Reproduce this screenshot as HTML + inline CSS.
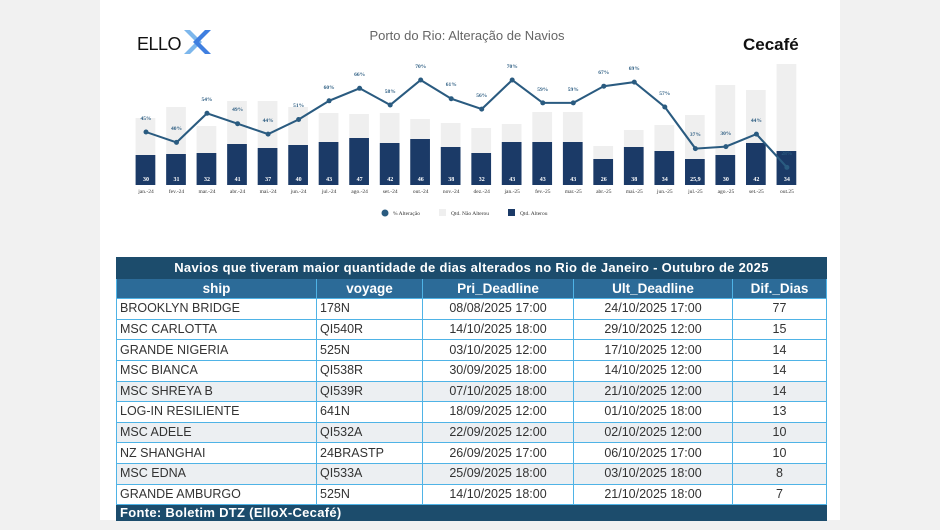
<!DOCTYPE html>
<html><head><meta charset="utf-8"><style>
body{margin:0;width:940px;height:530px;background:#f1f1f1;font-family:"Liberation Sans",sans-serif;overflow:hidden}
.page{position:absolute;left:100px;top:0;width:740px;height:520px;background:#fff}
svg{position:absolute;left:0;top:0}
table{position:absolute;left:116px;top:257px;width:711px;border-collapse:collapse;font-family:"Liberation Sans",sans-serif;font-size:12.5px;color:#333}
td,th{border:1px solid #4fb3e6;height:19.6px;padding:0 3px;line-height:19px}
.t td{background:#1c4c6c;color:#fff;font-weight:bold;text-align:center;font-size:13px;letter-spacing:0.3px;border-color:#1c4c6c}
th{background:#2c6b98;color:#fff;font-size:13.5px;border-color:#4fb3e6}
td.c{text-align:center}
tr.g td{background:#eceff2}
.f td{background:#1c4c6c;color:#fff;font-weight:bold;font-size:13px;height:15px;line-height:15px;border-color:#1c4c6c;letter-spacing:0.3px}
</style></head><body>
<div class="page"></div>
<svg width="940" height="250" font-family="Liberation Serif,serif">
<text x="467" y="40" text-anchor="middle" font-family="Liberation Sans,sans-serif" font-size="13" fill="#666">Porto do Rio: Alteração de Navios</text>
<text x="137" y="50" font-family="Liberation Sans,sans-serif" font-size="18" fill="#111" letter-spacing="-0.5">ELLO</text>
<path d="M184 30 L196 42 L184 54 L190 54 L202 42 L190 30Z" fill="#7db7ec"/>
<path d="M211 30 L199 42 L211 54 L205 54 L193 42 L205 30Z" fill="#3f7fe0"/>
<text x="743" y="50" font-family="Liberation Sans,sans-serif" font-size="17" font-weight="bold" fill="#111">Cecafé</text>
<g transform="translate(146,0) scale(1.0951,1) translate(-146,0)">
<g fill="#efefef">
<rect x="136.5" y="118" width="18" height="67"/><rect x="164.4" y="107" width="18" height="78"/><rect x="192.2" y="126" width="18" height="59"/><rect x="220.1" y="101" width="18" height="84"/><rect x="248" y="101" width="18" height="84"/><rect x="275.9" y="107" width="18" height="78"/><rect x="303.7" y="113" width="18" height="72"/><rect x="331.6" y="114" width="18" height="71"/><rect x="359.5" y="113" width="18" height="72"/><rect x="387.3" y="119" width="18" height="66"/><rect x="415.2" y="123" width="18" height="62"/><rect x="443.1" y="128" width="18" height="57"/><rect x="470.9" y="124" width="18" height="61"/><rect x="498.8" y="112" width="18" height="73"/><rect x="526.7" y="112" width="18" height="73"/><rect x="554.5" y="146" width="18" height="39"/><rect x="582.4" y="130" width="18" height="55"/><rect x="610.3" y="125" width="18" height="60"/><rect x="638.2" y="115" width="18" height="70"/><rect x="666" y="85" width="18" height="100"/><rect x="693.9" y="90" width="18" height="95"/><rect x="721.8" y="64" width="18" height="121"/>
</g>
<g fill="#1b3a67">
<rect x="136.5" y="155" width="18" height="30"/><rect x="164.4" y="154" width="18" height="31"/><rect x="192.2" y="153" width="18" height="32"/><rect x="220.1" y="144" width="18" height="41"/><rect x="248" y="148" width="18" height="37"/><rect x="275.9" y="145" width="18" height="40"/><rect x="303.7" y="142" width="18" height="43"/><rect x="331.6" y="138" width="18" height="47"/><rect x="359.5" y="143" width="18" height="42"/><rect x="387.3" y="139" width="18" height="46"/><rect x="415.2" y="147" width="18" height="38"/><rect x="443.1" y="153" width="18" height="32"/><rect x="470.9" y="142" width="18" height="43"/><rect x="498.8" y="142" width="18" height="43"/><rect x="526.7" y="142" width="18" height="43"/><rect x="554.5" y="159" width="18" height="26"/><rect x="582.4" y="147" width="18" height="38"/><rect x="610.3" y="151" width="18" height="34"/><rect x="638.2" y="159" width="18" height="26"/><rect x="666" y="155" width="18" height="30"/><rect x="693.9" y="143" width="18" height="42"/><rect x="721.8" y="151" width="18" height="34"/>
</g>
<polyline fill="none" stroke="#2a5b80" stroke-width="2" points="146,132 173.9,142.4 201.7,113.3 229.6,123.7 257.5,134.1 285.4,119.5 313.2,100.8 341.1,88.3 369,105 396.8,80 424.7,98.7 452.6,109.1 480.4,80 508.3,102.9 536.2,102.9 564,86.2 591.9,82.1 619.8,107 647.7,148.6 675.5,146.6 703.4,134.1 731.3,167.4"/>
</g>
<g fill="#2a5b80">
<circle cx="146" cy="132" r="2.5"/><circle cx="176.5" cy="142.4" r="2.5"/><circle cx="207" cy="113.3" r="2.5"/><circle cx="237.6" cy="123.7" r="2.5"/><circle cx="268.1" cy="134.1" r="2.5"/><circle cx="298.6" cy="119.5" r="2.5"/><circle cx="329.1" cy="100.8" r="2.5"/><circle cx="359.6" cy="88.3" r="2.5"/><circle cx="390.2" cy="105" r="2.5"/><circle cx="420.7" cy="80" r="2.5"/><circle cx="451.2" cy="98.7" r="2.5"/><circle cx="481.7" cy="109.1" r="2.5"/><circle cx="512.2" cy="80" r="2.5"/><circle cx="542.8" cy="102.9" r="2.5"/><circle cx="573.3" cy="102.9" r="2.5"/><circle cx="603.8" cy="86.2" r="2.5"/><circle cx="634.3" cy="82.1" r="2.5"/><circle cx="664.8" cy="107" r="2.5"/><circle cx="695.4" cy="148.6" r="2.5"/><circle cx="725.9" cy="146.6" r="2.5"/><circle cx="756.4" cy="134.1" r="2.5"/><circle cx="786.9" cy="167.4" r="2.5"/>
</g>
<g font-size="6" fill="#fff" text-anchor="middle" font-weight="bold">
<text x="146" y="181">30</text><text x="176.5" y="181">31</text><text x="207" y="181">32</text><text x="237.6" y="181">41</text><text x="268.1" y="181">37</text><text x="298.6" y="181">40</text><text x="329.1" y="181">43</text><text x="359.6" y="181">47</text><text x="390.2" y="181">42</text><text x="420.7" y="181">46</text><text x="451.2" y="181">38</text><text x="481.7" y="181">32</text><text x="512.2" y="181">43</text><text x="542.8" y="181">43</text><text x="573.3" y="181">43</text><text x="603.8" y="181">26</text><text x="634.3" y="181">38</text><text x="664.8" y="181">34</text><text x="695.4" y="181">25,9</text><text x="725.9" y="181">30</text><text x="756.4" y="181">42</text><text x="786.9" y="181">34</text>
</g>
<g font-size="5.5" fill="#333" text-anchor="middle">
<text x="146" y="193">jan.-24</text><text x="176.5" y="193">fev.-24</text><text x="207" y="193">mar.-24</text><text x="237.6" y="193">abr.-24</text><text x="268.1" y="193">mai.-24</text><text x="298.6" y="193">jun.-24</text><text x="329.1" y="193">jul.-24</text><text x="359.6" y="193">ago.-24</text><text x="390.2" y="193">set.-24</text><text x="420.7" y="193">out.-24</text><text x="451.2" y="193">nov.-24</text><text x="481.7" y="193">dez.-24</text><text x="512.2" y="193">jan.-25</text><text x="542.8" y="193">fev.-25</text><text x="573.3" y="193">mar.-25</text><text x="603.8" y="193">abr.-25</text><text x="634.3" y="193">mai.-25</text><text x="664.8" y="193">jun.-25</text><text x="695.4" y="193">jul.-25</text><text x="725.9" y="193">ago.-25</text><text x="756.4" y="193">set.-25</text><text x="786.9" y="193">out.25</text>
</g>
<g font-size="5.5" fill="#2a5b80" text-anchor="middle" font-weight="bold">
<text x="146" y="120">45%</text><text x="176.5" y="130">40%</text><text x="207" y="101">54%</text><text x="237.6" y="111">49%</text><text x="268.1" y="122">44%</text><text x="298.6" y="107">51%</text><text x="329.1" y="89">60%</text><text x="359.6" y="76">66%</text><text x="390.2" y="93">58%</text><text x="420.7" y="68">70%</text><text x="451.2" y="86">61%</text><text x="481.7" y="97">56%</text><text x="512.2" y="68">70%</text><text x="542.8" y="91">59%</text><text x="573.3" y="91">59%</text><text x="603.8" y="74">67%</text><text x="634.3" y="70">69%</text><text x="664.8" y="95">57%</text><text x="695.4" y="136">37%</text><text x="725.9" y="135">30%</text><text x="756.4" y="122">44%</text><text x="786.9" y="155">28%</text>
</g>
<circle cx="385" cy="213" r="3.5" fill="#2a5b80"/>
<text x="393" y="215" font-size="5.5" fill="#333">% Alteração</text>
<rect x="439" y="209" width="7" height="7" fill="#efefef"/>
<text x="451" y="215" font-size="5.5" fill="#333">Qtd. Não Alterou</text>
<rect x="508" y="209" width="7" height="7" fill="#1b3a67"/>
<text x="520" y="215" font-size="5.5" fill="#333">Qtd. Alterou</text>
</svg>
<table>
<tr class="t"><td colspan="5">Navios que tiveram maior quantidade de dias alterados no Rio de Janeiro - Outubro de 2025</td></tr>
<tr><th style="width:193px">ship</th><th style="width:99px">voyage</th><th style="width:144px">Pri_Deadline</th><th style="width:152px">Ult_Deadline</th><th>Dif._Dias</th></tr>
<tr><td>BROOKLYN BRIDGE</td><td>178N</td><td class="c">08/08/2025 17:00</td><td class="c">24/10/2025 17:00</td><td class="c">77</td></tr>
<tr><td>MSC CARLOTTA</td><td>QI540R</td><td class="c">14/10/2025 18:00</td><td class="c">29/10/2025 12:00</td><td class="c">15</td></tr>
<tr><td>GRANDE NIGERIA</td><td>525N</td><td class="c">03/10/2025 12:00</td><td class="c">17/10/2025 12:00</td><td class="c">14</td></tr>
<tr><td>MSC BIANCA</td><td>QI538R</td><td class="c">30/09/2025 18:00</td><td class="c">14/10/2025 12:00</td><td class="c">14</td></tr>
<tr class="g"><td>MSC SHREYA B</td><td>QI539R</td><td class="c">07/10/2025 18:00</td><td class="c">21/10/2025 12:00</td><td class="c">14</td></tr>
<tr><td>LOG-IN RESILIENTE</td><td>641N</td><td class="c">18/09/2025 12:00</td><td class="c">01/10/2025 18:00</td><td class="c">13</td></tr>
<tr class="g"><td>MSC ADELE</td><td>QI532A</td><td class="c">22/09/2025 12:00</td><td class="c">02/10/2025 12:00</td><td class="c">10</td></tr>
<tr><td>NZ SHANGHAI</td><td>24BRASTP</td><td class="c">26/09/2025 17:00</td><td class="c">06/10/2025 17:00</td><td class="c">10</td></tr>
<tr class="g"><td>MSC EDNA</td><td>QI533A</td><td class="c">25/09/2025 18:00</td><td class="c">03/10/2025 18:00</td><td class="c">8</td></tr>
<tr><td>GRANDE AMBURGO</td><td>525N</td><td class="c">14/10/2025 18:00</td><td class="c">21/10/2025 18:00</td><td class="c">7</td></tr>
<tr class="f"><td colspan="5">Fonte: Boletim DTZ (ElloX-Cecafé)</td></tr>
</table>
</body></html>
